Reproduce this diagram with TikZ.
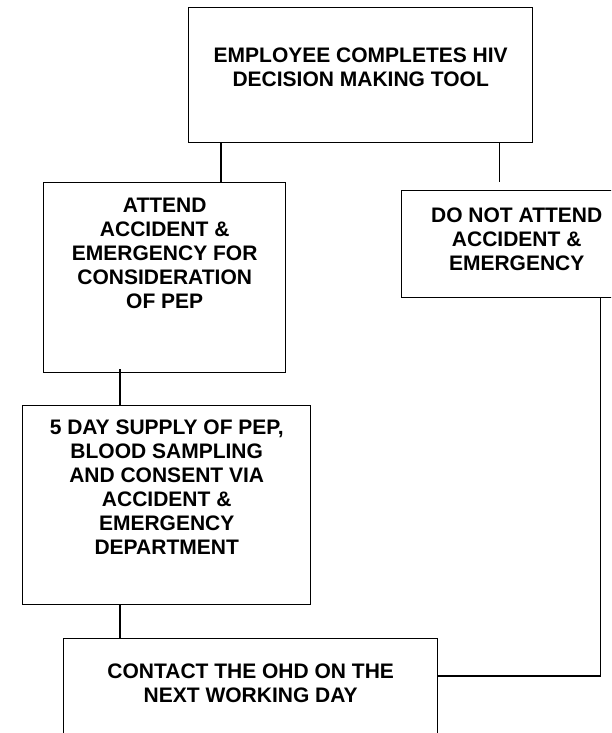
\documentclass[tikz,border=0pt]{standalone}
\usepackage{fontspec}
\setmainfont{Liberation Sans}

\begin{document}
\begin{tikzpicture}[x=1pt,y=-1pt,
  box/.style={draw,line width=1.4pt,anchor=north west,inner sep=0pt},
  txt/.style={anchor=north,align=center,inner sep=0pt,
    font=\bfseries\fontsize{21}{24}\selectfont},
  link/.style={line width=1.4pt}]

% Fix the page
\clip (0,0) rectangle (611,733);
\fill[white] (0,0) rectangle (611,733);

% Draw the boxes
\node[box,minimum width=344pt,minimum height=135pt] (tool) at (188,7) {};
\node[box,minimum width=242pt,minimum height=190pt] (attend) at (43,182) {};
\node[box,minimum width=230pt,minimum height=107pt] (noattend) at (401,190) {};
\node[box,minimum width=288pt,minimum height=199pt] (supply) at (22,405) {};
\node[box,minimum width=374pt,minimum height=142pt] (contact) at (63,638) {};

% Draw the texts
\node[txt] (tooltxt) at ([yshift=-41pt]tool.north)
  {EMPLOYEE COMPLETES HIV\\DECISION MAKING TOOL};
\node[txt] (attendtxt) at ([yshift=-16pt]attend.north)
  {ATTEND\\ACCIDENT \&\\EMERGENCY FOR\\CONSIDERATION\\OF PEP};
\node[txt] (noattendtxt) at ([yshift=-18pt]noattend.north)
  {DO NOT ATTEND\\ACCIDENT \&\\EMERGENCY};
\node[txt] (supplytxt) at ([yshift=-15pt]supply.north)
  {5 DAY SUPPLY OF PEP,\\BLOOD SAMPLING\\AND CONSENT VIA\\ACCIDENT \&\\EMERGENCY\\DEPARTMENT};
\node[txt] (contacttxt) at ([yshift=-26pt]contact.north)
  {CONTACT THE OHD ON THE\\NEXT WORKING DAY};

% Draw the lines
\draw[link] ([xshift=33pt]tool.south west) -- ([xshift=33pt]tool.south west |- attend.north);
\draw[link] ([xshift=-34pt]tool.south east) -- ++(0,39);
\draw[link] ([xshift=77pt,yshift=4pt]attend.south west) -- ([xshift=77pt]attend.south west |- supply.north);
\draw[link] ([xshift=98pt]supply.south west) -- ([xshift=98pt]supply.south west |- contact.north);
\draw[link] ([xshift=-32pt]noattend.south east) |- ([yshift=-38pt]contact.north east);

\end{tikzpicture}
\end{document}
